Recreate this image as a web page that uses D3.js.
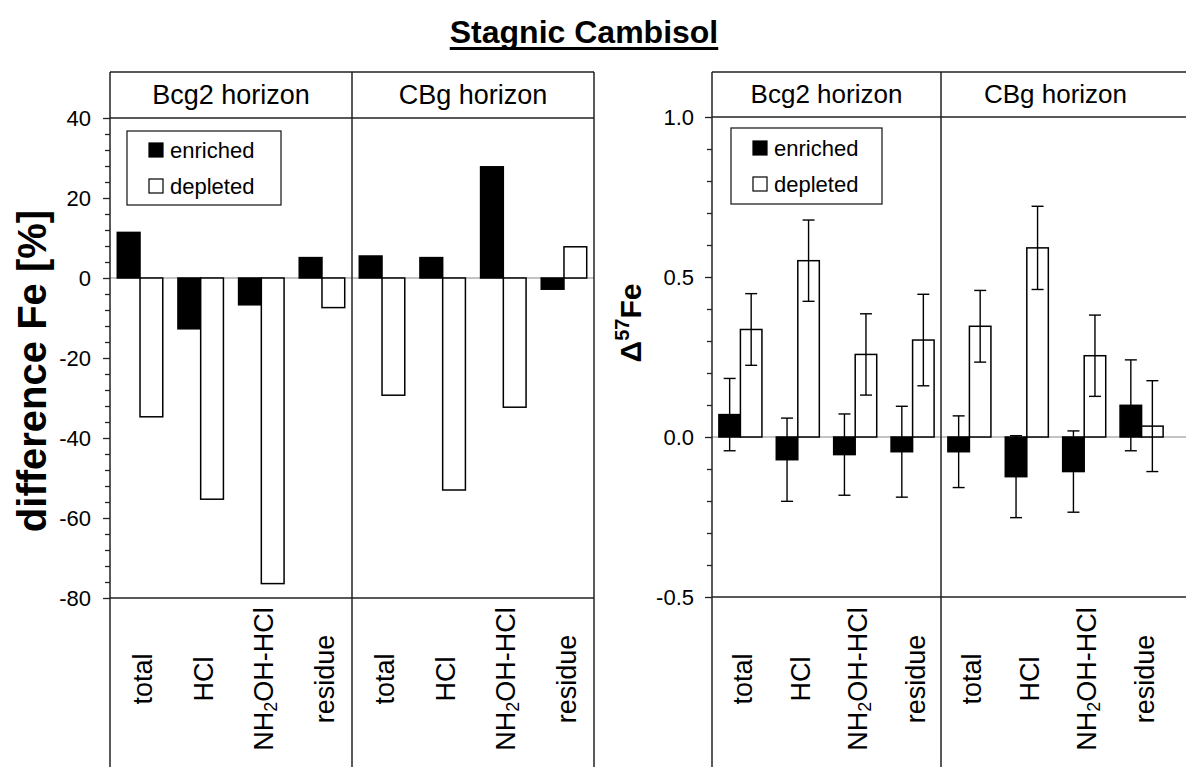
<!DOCTYPE html>
<html>
<head>
<meta charset="utf-8">
<script src="https://cdn.jsdelivr.net/npm/d3@7"></script>
<style>
  html, body { margin: 0; padding: 0; background: #fff; }
  svg { display: block; font-family: "Liberation Sans", Arial, Helvetica, sans-serif; }
</style>
</head>
<body>
<svg id="chart" width="1186" height="767"></svg>
<script>
// ---------------- DATA ----------------
const chartTitle = "Stagnic Cambisol";
const horizons = ["Bcg2 horizon", "CBg horizon"];
const fractions = ["total", "HCl", "NH2OH-HCl", "residue"];
const series = ["enriched", "depleted"];

// difference Fe [%]
const diffEnrichedBcg2 = [11.4, -12.7, -6.7, 5.1];
const diffDepletedBcg2 = [-34.7, -55.3, -76.4, -7.4];
const diffEnrichedCBg  = [5.5, 5.1, 27.8, -2.8];
const diffDepletedCBg  = [-29.3, -53.0, -32.3, 7.8];

// Delta 57Fe with error
const deltaEnrichedBcg2    = [0.070, -0.071, -0.055, -0.046];
const deltaEnrichedBcg2Err = [0.113, 0.130, 0.127, 0.142];
const deltaDepletedBcg2    = [0.336, 0.551, 0.258, 0.303];
const deltaDepletedBcg2Err = [0.112, 0.127, 0.127, 0.143];
const deltaEnrichedCBg     = [-0.046, -0.124, -0.108, 0.099];
const deltaEnrichedCBgErr  = [0.112, 0.128, 0.127, 0.142];
const deltaDepletedCBg     = [0.346, 0.591, 0.254, 0.034];
const deltaDepletedCBgErr  = [0.112, 0.130, 0.127, 0.142];

const leftMajorTicks = [-80, -60, -40, -20, 0, 20, 40];
const leftTickLabels = ["-80", "-60", "-40", "-20", "0", "20", "40"];
const rightMajorTicks = [-0.5, 0.0, 0.5, 1.0];
const rightTickLabels = ["-0.5", "0.0", "0.5", "1.0"];

// ---------------- BUILD ----------------
function rows(hIdx, enr, dep, enrErr, depErr) {
  const out = [];
  fractions.forEach((f, i) => {
    out.push({h: horizons[hIdx], f, s: "enriched", v: enr[i], e: enrErr ? enrErr[i] : null});
    out.push({h: horizons[hIdx], f, s: "depleted", v: dep[i], e: depErr ? depErr[i] : null});
  });
  return out;
}
const diffData = rows(0, diffEnrichedBcg2, diffDepletedBcg2).concat(rows(1, diffEnrichedCBg, diffDepletedCBg));
const deltaData = rows(0, deltaEnrichedBcg2, deltaDepletedBcg2, deltaEnrichedBcg2Err, deltaDepletedBcg2Err)
  .concat(rows(1, deltaEnrichedCBg, deltaDepletedCBg, deltaEnrichedCBgErr, deltaDepletedCBgErr));

const svg = d3.select("#chart");
const FONT = "'Liberation Sans', Arial, Helvetica, sans-serif";

// title
const title = svg.append("text")
  .attr("x", 584).attr("y", 43)
  .attr("text-anchor", "middle")
  .attr("font-size", 32).attr("font-weight", "bold")
  .text(chartTitle);
const tw = title.node().getComputedTextLength();
svg.append("line").attr("x1", 584 - tw / 2).attr("x2", 584 + tw / 2)
  .attr("y1", 48.5).attr("y2", 48.5).attr("stroke", "#000").attr("stroke-width", 3);

function panel(cfg) {
  const g = svg.append("g");
  const y = d3.scaleLinear().domain(cfg.domain).range([cfg.plotBottom, cfg.plotTop]);
  const xH = d3.scaleBand().domain(horizons).range([cfg.left, cfg.right]);
  const x0 = d3.scaleBand().domain(fractions).range([0, xH.bandwidth()]).paddingInner(0.25).paddingOuter(0.12);
  const x1 = d3.scaleBand().domain(series).range([0, x0.bandwidth()]);
  const lineEnd = cfg.drawRight ? cfg.right : 1200;

  // zero line
  g.append("line").attr("x1", cfg.left).attr("x2", lineEnd)
    .attr("y1", y(0)).attr("y2", y(0)).attr("stroke", "#888").attr("stroke-width", 1.2);

  // bars
  g.selectAll("rect.bar").data(cfg.data).join("rect").attr("class", "bar")
    .attr("x", d => xH(d.h) + x0(d.f) + x1(d.s))
    .attr("width", x1.bandwidth())
    .attr("y", d => Math.min(y(d.v), y(0)))
    .attr("height", d => Math.abs(y(d.v) - y(0)))
    .attr("fill", d => d.s === "enriched" ? "#000" : "#fff")
    .attr("stroke", "#000").attr("stroke-width", 1.5);

  // error bars
  const errs = cfg.data.filter(d => d.e != null);
  const eg = g.selectAll("g.err").data(errs).join("g").attr("class", "err")
    .attr("transform", d => `translate(${xH(d.h) + x0(d.f) + x1(d.s) + x1.bandwidth() / 2},0)`);
  eg.append("line").attr("x1", 0).attr("x2", 0)
    .attr("y1", d => y(d.v - d.e)).attr("y2", d => y(d.v + d.e))
    .attr("stroke", "#000").attr("stroke-width", 1.4);
  eg.append("line").attr("x1", -6).attr("x2", 6)
    .attr("y1", d => y(d.v + d.e)).attr("y2", d => y(d.v + d.e))
    .attr("stroke", "#000").attr("stroke-width", 1.4);
  eg.append("line").attr("x1", -6).attr("x2", 6)
    .attr("y1", d => y(d.v - d.e)).attr("y2", d => y(d.v - d.e))
    .attr("stroke", "#000").attr("stroke-width", 1.4);

  // frame
  const fr = g.append("g").attr("stroke", "#222").attr("stroke-width", 1.5);
  [cfg.top, cfg.plotTop, cfg.plotBottom].forEach(yy =>
    fr.append("line").attr("x1", cfg.left).attr("x2", lineEnd).attr("y1", yy).attr("y2", yy));
  fr.append("line").attr("x1", cfg.left).attr("x2", cfg.left).attr("y1", cfg.top).attr("y2", 770);
  fr.append("line").attr("x1", xH(horizons[1])).attr("x2", xH(horizons[1])).attr("y1", cfg.top).attr("y2", 770);
  if (cfg.drawRight)
    fr.append("line").attr("x1", cfg.right).attr("x2", cfg.right).attr("y1", cfg.top).attr("y2", 770);

  // header texts
  g.selectAll("text.hdr").data(horizons).join("text").attr("class", "hdr")
    .attr("x", d => xH(d) + xH.bandwidth() / 2)
    .attr("y", cfg.headerBaseline)
    .attr("text-anchor", "middle")
    .attr("font-size", cfg.headerSize)
    .text(d => d);

  // y axis
  const major = d3.axisLeft(y).tickValues(cfg.major).tickSize(7).tickPadding(cfg.tickPad)
    .tickFormat((d, i) => cfg.labels[i]);
  const minor = d3.axisLeft(y).tickValues(cfg.minor).tickSize(5).tickFormat("");
  const ag1 = g.append("g").attr("transform", `translate(${cfg.left},0)`).call(minor);
  const ag2 = g.append("g").attr("transform", `translate(${cfg.left},0)`).call(major);
  [ag1, ag2].forEach(a => {
    a.select(".domain").remove();
    a.selectAll(".tick line").attr("stroke", "#222").attr("stroke-width", 1.3);
    a.selectAll(".tick text").attr("font-size", 22).attr("font-family", FONT).attr("fill", "#000");
  });

  // category labels
  const catY = 679;
  horizons.forEach(h => {
    fractions.forEach(f => {
      const cx = xH(h) + x0(f) + x0.bandwidth() / 2 + 3;
      const t = g.append("text")
        .attr("transform", `translate(${cx},${catY}) rotate(-90)`)
        .attr("text-anchor", "middle")
        .attr("dominant-baseline", "central")
        .attr("font-size", 27);
      if (f === "NH2OH-HCl") {
        t.append("tspan").text("NH");
        t.append("tspan").text("2").attr("font-size", 18).attr("dy", 7);
        t.append("tspan").text("OH-HCl").attr("dy", -7);
      } else {
        t.text(f);
      }
    });
  });

  // legend
  const L = cfg.legend;
  const lg = g.append("g").attr("transform", `translate(${cfg.left + L.x},${cfg.plotTop + L.y})`);
  lg.append("rect").attr("width", L.w).attr("height", L.h)
    .attr("fill", "#fff").attr("stroke", "#222").attr("stroke-width", 1.3);
  series.forEach((s, i) => {
    const yy = L.row0 + i * 36;
    lg.append("rect").attr("x", L.mx).attr("y", yy - 15).attr("width", 14).attr("height", 14)
      .attr("fill", s === "enriched" ? "#000" : "#fff")
      .attr("stroke", "#000").attr("stroke-width", 1.2);
    lg.append("text").attr("x", L.mx + 21).attr("y", yy)
      .attr("font-size", 22).text(s);
  });
  return {y, xH};
}

// left panel
panel({
  left: 110, right: 594, top: 72, plotTop: 118, plotBottom: 598,
  domain: [-80, 40], drawRight: true, data: diffData,
  major: leftMajorTicks, labels: leftTickLabels,
  minor: d3.range(-80, 41, 4).filter(v => v % 20 !== 0),
  tickPad: 12,
  headerBaseline: 104, headerSize: 27,
  legend: {x: 17, y: 13, w: 154, h: 74, mx: 22, row0: 27}
});
// right panel
panel({
  left: 712, right: 1170, top: 72, plotTop: 117, plotBottom: 597,
  domain: [-0.5, 1.0], drawRight: false, data: deltaData,
  major: rightMajorTicks, labels: rightTickLabels,
  minor: d3.range(-5, 11, 1).filter(v => v % 5 !== 0).map(v => v / 10),
  tickPad: 11,
  headerBaseline: 103, headerSize: 26,
  legend: {x: 19, y: 11, w: 151, h: 76, mx: 22, row0: 28}
});

// y axis titles
svg.append("text")
  .attr("transform", "translate(46,371) rotate(-90)")
  .attr("text-anchor", "middle")
  .attr("font-size", 40).attr("font-weight", "bold")
  .text("difference Fe [%]");

const yt = svg.append("text")
  .attr("transform", "translate(641,323) rotate(-90)")
  .attr("text-anchor", "middle")
  .attr("font-size", 30).attr("font-weight", "bold");
yt.append("tspan").text("\u0394");
yt.append("tspan").text("57").attr("font-size", 20).attr("dy", -12);
yt.append("tspan").text("Fe").attr("dy", 12);
</script>
</body>
</html>
